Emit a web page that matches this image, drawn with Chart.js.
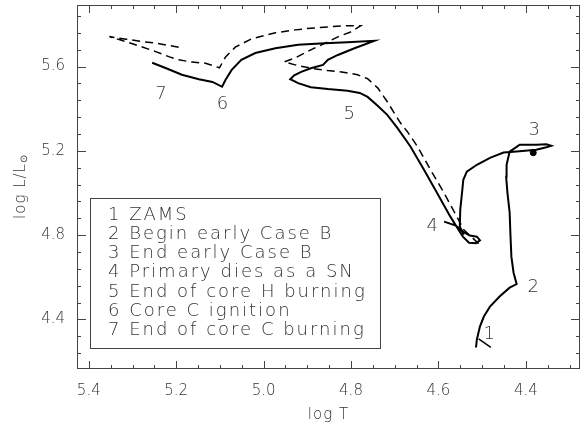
<!DOCTYPE html>
<html>
<head>
<meta charset="utf-8">
<script src="https://cdn.jsdelivr.net/npm/chart.js@4.4.0/dist/chart.umd.min.js"></script>
<style>
    html, body { margin: 0; padding: 0; background: #fff; }
</style>
</head>
<body>
<canvas id="hrChart" width="585" height="423"></canvas>
<script>
// axis tick labels
const xTickValues = [5.4, 5.2, 5.0, 4.8, 4.6, 4.4];
const yTickValues = [4.4, 4.8, 5.2, 5.6];

// primary: ZAMS -> early Case B -> SN
const primaryLogT = [4.514, 4.512, 4.505, 4.496, 4.482, 4.460, 4.437, 4.421, 4.428, 4.433, 4.435, 4.437,
    4.442, 4.445, 4.444, 4.437, 4.421, 4.414, 4.376, 4.353, 4.342, 4.353, 4.376, 4.421, 4.451, 4.482,
    4.512, 4.535, 4.543, 4.546, 4.550, 4.551, 4.542];
const primaryLogL = [4.267, 4.305, 4.366, 4.414, 4.461, 4.509, 4.551, 4.568, 4.622, 4.698, 4.793, 4.907,
    5.001, 5.077, 5.134, 5.196, 5.219, 5.229, 5.229, 5.231, 5.224, 5.217, 5.205, 5.197, 5.192, 5.167,
    5.134, 5.101, 5.063, 5.001, 4.921, 4.840, 4.802];

// short stroke at the ZAMS
const zamsLogT = [4.508, 4.480];
const zamsLogL = [4.308, 4.268];

// dot at the end of early Case B
const dotLogT = [4.383];
const dotLogL = [5.191];

// secondary after the SN (solid)
const secondaryLogT = [4.587, 4.560, 4.544, 4.528, 4.512, 4.505, 4.514, 4.530, 4.544, 4.554, 4.573, 4.603,
    4.633, 4.664, 4.694, 4.717, 4.739, 4.762, 4.780, 4.808, 4.853, 4.892, 4.921, 4.939, 4.930, 4.914,
    4.892, 4.864, 4.853, 4.830, 4.792, 4.747, 4.808, 4.860, 4.921, 4.973, 5.019, 5.051, 5.073, 5.087,
    5.095, 5.117, 5.148, 5.187, 5.223, 5.255];
const secondaryLogL = [4.864, 4.845, 4.817, 4.798, 4.793, 4.776, 4.762, 4.764, 4.793, 4.826, 4.889, 5.000,
    5.110, 5.221, 5.309, 5.371, 5.414, 5.456, 5.475, 5.485, 5.493, 5.502, 5.521, 5.540, 5.558, 5.575,
    5.592, 5.608, 5.632, 5.655, 5.687, 5.722, 5.715, 5.711, 5.703, 5.687, 5.664, 5.632, 5.584, 5.537,
    5.504, 5.527, 5.540, 5.561, 5.592, 5.618];

// comparison track (dashed)
const dashedLogT = [4.508, 4.542, 4.558, 4.587, 4.618, 4.648, 4.671, 4.687, 4.717, 4.739, 4.762, 4.785,
    4.814, 4.853, 4.892, 4.928, 4.953, 4.928, 4.892, 4.858, 4.830, 4.801, 4.778, 4.814, 4.853, 4.892,
    4.928, 4.973, 5.028, 5.064, 5.087, 5.101, 5.133, 5.164, 5.194, 5.217, 5.247, 5.281, 5.315, 5.353,
    5.315, 5.277, 5.247, 5.217, 5.190];
const dashedLogL = [4.760, 4.826, 4.888, 5.000, 5.110, 5.221, 5.291, 5.333, 5.433, 5.499, 5.542, 5.561,
    5.572, 5.581, 5.592, 5.608, 5.622, 5.641, 5.679, 5.712, 5.741, 5.764, 5.793, 5.793, 5.788, 5.782,
    5.774, 5.760, 5.731, 5.693, 5.646, 5.594, 5.616, 5.621, 5.632, 5.647, 5.671, 5.695, 5.718, 5.742,
    5.730, 5.718, 5.711, 5.700, 5.690];

// numbered markers on the tracks
const markerText = ['1', '2', '3', '4', '5', '6', '7'];
const markerLogT = [4.484, 4.383, 4.381, 4.614, 4.804, 5.094, 5.235];
const markerLogL = [4.336, 4.563, 5.308, 4.851, 5.381, 5.430, 5.478];

const legendLines = [
    '1 ZAMS',
    '2 Begin early Case B',
    '3 End early Case B',
    '4 Primary dies as a SN',
    '5 End of core H burning',
    '6 Core C ignition',
    '7 End of core C burning'
];

const FONT = 'DejaVu Sans';
const INK = '#333';

function toPoints(xs, ys) {
    return xs.map((v, i) => ({ x: v, y: ys[i] }));
}

// frame, inward ticks, labels, legend box, axis titles
const decorations = {
    id: 'decorations',
    afterDraw(chart) {
        const { ctx, chartArea: a, scales: { x, y } } = chart;
        ctx.save();
        ctx.strokeStyle = '#444';
        ctx.lineWidth = 1;
        ctx.strokeRect(a.left + 0.5, a.top + 0.5, a.right - a.left - 1, a.bottom - a.top - 1);

        ctx.beginPath();
        for (let k = 86; k <= 108; k++) {
            const px = Math.round(x.getPixelForValue(k * 0.05)) + 0.5;
            const len = k % 4 === 0 ? 8 : 4;
            ctx.moveTo(px, a.bottom); ctx.lineTo(px, a.bottom - len);
            ctx.moveTo(px, a.top); ctx.lineTo(px, a.top + len);
        }
        for (let j = -2; j <= 18; j++) {
            const py = Math.round(y.getPixelForValue(4.4 + j * 0.08)) + 0.5;
            const len = j % 5 === 0 ? 9 : 4;
            ctx.moveTo(a.left, py); ctx.lineTo(a.left + len, py);
            ctx.moveTo(a.right, py); ctx.lineTo(a.right - len, py);
        }
        ctx.stroke();

        // numbered markers
        ctx.fillStyle = INK;
        ctx.font = '200 18px "' + FONT + '"';
        ctx.textAlign = 'center';
        ctx.textBaseline = 'alphabetic';
        markerText.forEach((t, i) => {
            ctx.fillText(t, x.getPixelForValue(markerLogT[i]), y.getPixelForValue(markerLogL[i]) + 6.5);
        });

        // legend box
        ctx.strokeStyle = '#444';
        ctx.strokeRect(90.5, 198.5, 290, 150);
        ctx.textAlign = 'left';
        ctx.letterSpacing = '2px';
        legendLines.forEach((t, i) => {
            ctx.fillText(t, 108, 219.5 + i * 19.25);
        });

        // x title
        ctx.font = '200 15px "' + FONT + '"';
        ctx.letterSpacing = '1px';
        ctx.textAlign = 'center';
        ctx.fillText('log T', (a.left + a.right) / 2, a.bottom + 50);

        // y title with subscript sun symbol
        ctx.translate(25, (a.top + a.bottom) / 2);
        ctx.rotate(-Math.PI / 2);
        ctx.textAlign = 'left';
        const main = 'log L/L';
        const wMain = ctx.measureText(main).width;
        ctx.font = '200 10px "' + FONT + '"';
        ctx.letterSpacing = '0px';
        const wSub = ctx.measureText('\u2299').width;
        const start = -(wMain + wSub) / 2;
        ctx.fillText('\u2299', start + wMain, 2);
        ctx.font = '200 15px "' + FONT + '"';
        ctx.letterSpacing = '1px';
        ctx.fillText(main, start, 0);
        ctx.restore();
    }
};

const ctx = document.getElementById('hrChart').getContext('2d');
Chart.defaults.font.family = FONT;

const chart = new Chart(ctx, {
    type: 'scatter',
    data: {
        datasets: [
            {
                data: toPoints(primaryLogT, primaryLogL),
                showLine: true, borderColor: '#000', borderWidth: 2, pointRadius: 0, tension: 0
            },
            {
                data: toPoints(zamsLogT, zamsLogL),
                showLine: true, borderColor: '#000', borderWidth: 1.5, pointRadius: 0
            },
            {
                data: toPoints(secondaryLogT, secondaryLogL),
                showLine: true, borderColor: '#000', borderWidth: 2, pointRadius: 0, tension: 0
            },
            {
                data: toPoints(dashedLogT, dashedLogL),
                showLine: true, borderColor: '#000', borderWidth: 1.5, borderDash: [8, 5],
                pointRadius: 0, tension: 0
            },
            {
                data: toPoints(dotLogT, dotLogL),
                showLine: false, pointRadius: 3, backgroundColor: '#000', borderColor: '#000'
            }
        ]
    },
    options: {
        responsive: false,
        animation: false,
        devicePixelRatio: 1,
        layout: { padding: { top: 5, right: 1, left: 0, bottom: 0 } },
        plugins: { legend: { display: false }, tooltip: { enabled: false } },
        scales: {
            x: {
                type: 'linear',
                reverse: true,
                min: 4.276,
                max: 5.427,
                afterBuildTicks: axis => { axis.ticks = xTickValues.map(v => ({ value: v })); },
                afterFit: axis => {
                    axis.height = 54;
                    axis.paddingLeft = 0;
                    axis.paddingRight = 0;
                },
                grid: { display: false, drawTicks: false },
                border: { display: false },
                ticks: {
                    padding: 13, color: INK, maxRotation: 0, autoSkip: false,
                    font: { family: FONT, size: 15, weight: 200 },
                    callback: v => v.toFixed(1)
                }
            },
            y: {
                type: 'linear',
                min: 4.165,
                max: 5.892,
                afterBuildTicks: axis => { axis.ticks = yTickValues.map(v => ({ value: v })); },
                afterFit: axis => {
                    axis.width = 77;
                    axis.paddingTop = 0;
                    axis.paddingBottom = 0;
                },
                grid: { display: false, drawTicks: false },
                border: { display: false },
                ticks: {
                    padding: 12, color: INK, autoSkip: false,
                    font: { family: FONT, size: 15, weight: 200 },
                    callback: v => v.toFixed(1)
                }
            }
        }
    },
    plugins: [decorations]
});
</script>
</body>
</html>
